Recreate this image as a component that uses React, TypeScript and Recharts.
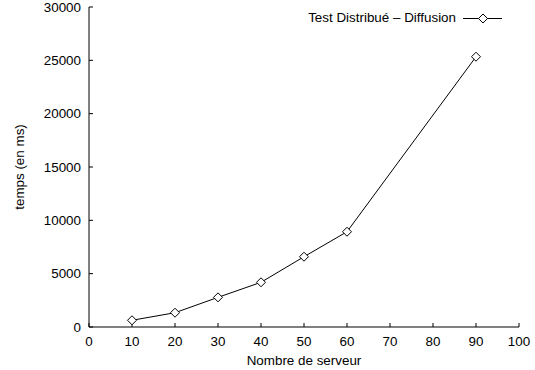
import React from 'react';
import { LineChart, Line, XAxis, YAxis, Legend } from 'recharts';

const servers = [10, 20, 30, 40, 50, 60, 90];
const times = [630, 1340, 2780, 4190, 6590, 8930, 25340];
const xTicks = [0, 10, 20, 30, 40, 50, 60, 70, 80, 90, 100];
const yTicks = [0, 5000, 10000, 15000, 20000, 25000, 30000];
const seriesName = 'Test Distribué – Diffusion';
const xLabel = 'Nombre de serveur';
const yLabel = 'temps (en ms)';

const data = servers.map((s, i) => ({ servers: s, time: times[i] }));

const FONT = '"Liberation Sans", Arial, Helvetica, sans-serif';
const FS = 13.4;
const R = 4.5;

const diamondPath = (cx: number, cy: number, r: number) =>
  `M${cx},${cy - r}L${cx + r},${cy}L${cx},${cy + r}L${cx - r},${cy}Z`;

const Diamond = (props: any) => {
  const { cx, cy, index } = props;
  if (cx == null || cy == null) return <g key={`d-${index}`} />;
  return (
    <path
      key={`d-${index}`}
      d={diamondPath(cx, cy, R)}
      fill="#fff"
      stroke="#000"
      strokeWidth={1}
    />
  );
};

const LegendContent = () => (
  <div
    style={{
      display: 'flex',
      alignItems: 'center',
      fontFamily: FONT,
      fontSize: FS,
      lineHeight: '14px',
      color: '#000',
      whiteSpace: 'nowrap',
    }}
  >
    <span>{seriesName}</span>
    <svg width={46} height={14} style={{ marginLeft: 6 }}>
      <line x1={1} y1={7.5} x2={40} y2={7.5} stroke="#000" strokeWidth={1} />
      <path d={diamondPath(21, 7.5, R)} fill="#fff" stroke="#000" strokeWidth={1} />
    </svg>
  </div>
);

const tickStyle = { fontSize: FS, fill: '#000', fontFamily: FONT };
const blank = () => '';

export default function App() {
  return (
    <div style={{ position: 'absolute', left: 0, top: 0, width: 535, height: 370, background: '#fff' }}>
      <LineChart
        width={535}
        height={370}
        data={data}
        margin={{ top: 7, right: 16, bottom: 0, left: 0 }}
        style={{ fontFamily: FONT }}
      >
        <XAxis
          xAxisId="main"
          dataKey="servers"
          type="number"
          domain={[0, 100]}
          ticks={xTicks}
          interval={0}
          height={43}
          tickSize={-4}
          tickMargin={13}
          tick={tickStyle}
          stroke="#000"
          axisLine={{ stroke: '#000', strokeWidth: 1 }}
          tickLine={{ stroke: '#000' }}
          label={{ value: xLabel, position: 'insideBottom', offset: 5, fill: '#000', fontSize: FS, fontFamily: FONT }}
        />
        <XAxis
          xAxisId="top"
          orientation="top"
          dataKey="servers"
          type="number"
          domain={[0, 100]}
          ticks={xTicks}
          interval={0}
          height={0}
          tickSize={-4}
          tickFormatter={blank}
          stroke="#000"
          axisLine={{ stroke: '#000', strokeWidth: 1 }}
          tickLine={{ stroke: '#000' }}
        />
        <YAxis
          yAxisId="main"
          type="number"
          domain={[0, 30000]}
          ticks={yTicks}
          interval={0}
          width={89}
          tickSize={-4}
          tickMargin={12}
          tick={tickStyle}
          stroke="#000"
          axisLine={{ stroke: '#000', strokeWidth: 1 }}
          tickLine={{ stroke: '#000' }}
          label={{
            value: yLabel,
            angle: -90,
            position: 'insideLeft',
            offset: 19,
            fill: '#000',
            fontSize: FS,
            fontFamily: FONT,
            style: { textAnchor: 'middle' },
          }}
        />
        <YAxis
          yAxisId="right"
          orientation="right"
          type="number"
          domain={[0, 30000]}
          ticks={yTicks}
          interval={0}
          width={0}
          tickSize={-4}
          tickFormatter={blank}
          stroke="#000"
          axisLine={{ stroke: '#000', strokeWidth: 1 }}
          tickLine={{ stroke: '#000' }}
        />
        <Legend
          layout="vertical"
          align="center"
          verticalAlign="middle"
          content={<LegendContent />}
          wrapperStyle={{ position: 'absolute', top: 11, right: 27, left: 'auto', width: 'auto', height: 14 }}
        />
        <Line
          xAxisId="main"
          yAxisId="main"
          type="linear"
          dataKey="time"
          name={seriesName}
          stroke="#000"
          strokeWidth={1}
          dot={Diamond}
          activeDot={false}
          isAnimationActive={false}
        />
      </LineChart>
    </div>
  );
}
